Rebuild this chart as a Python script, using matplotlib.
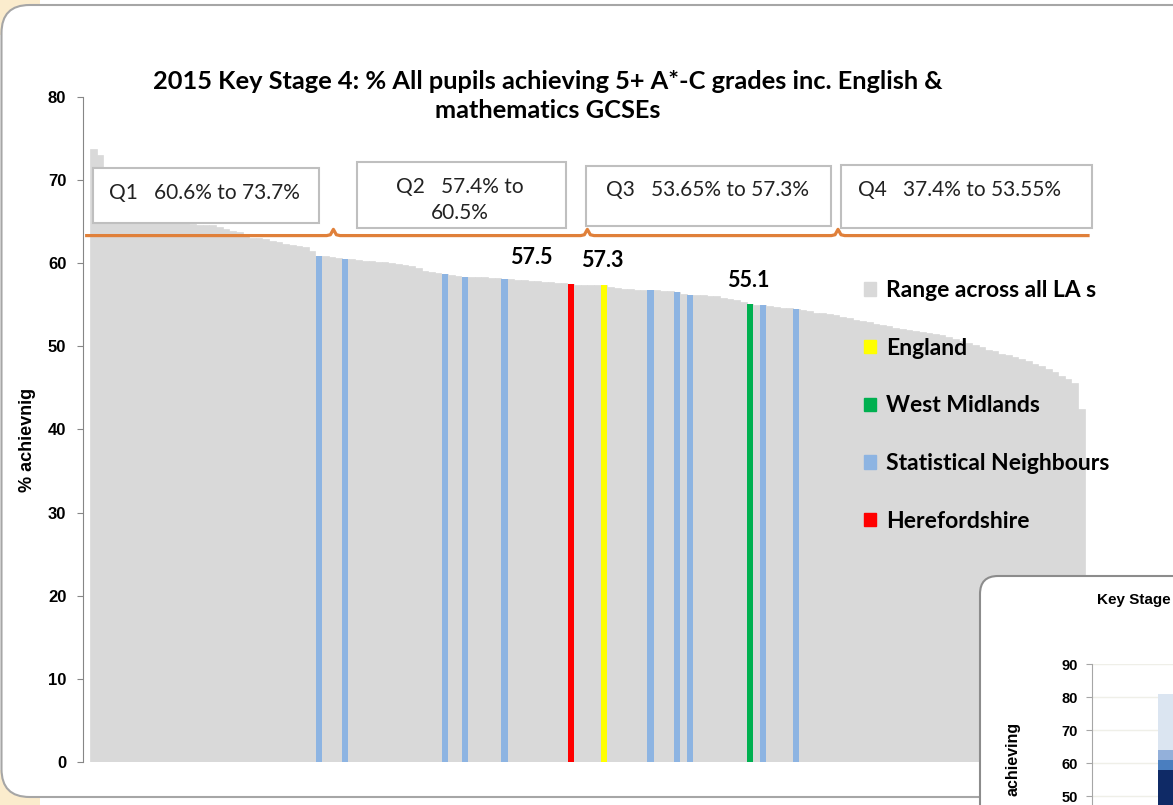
import matplotlib
matplotlib.use("Agg")
import matplotlib.pyplot as plt
from matplotlib.patches import Rectangle, FancyBboxPatch, Patch

W, H = 1173, 805

# % of pupils achieving 5+ A*-C inc. English & maths, every LA, sorted high to low
la_values = [
    73.7, 73.0, 70.5, 69.0, 68.0, 67.3, 66.8, 66.3, 66.0, 65.7,
    65.4, 65.2, 65.0, 64.9, 64.8, 64.7, 64.6, 64.6, 64.6, 64.3,
    64.1, 63.9, 63.7, 63.4, 63.0, 63.0, 62.9, 62.6, 62.5, 62.3,
    62.2, 62.0, 61.9, 61.5, 60.9, 60.8, 60.7, 60.6, 60.5, 60.45,
    60.4, 60.3, 60.2, 60.1, 60.1, 60.0, 59.9, 59.8, 59.6, 59.4,
    59.0, 58.9, 58.8, 58.7, 58.5, 58.4, 58.3, 58.3, 58.3, 58.3,
    58.2, 58.2, 58.1, 58.1, 57.9, 57.9, 57.8, 57.8, 57.7, 57.7,
    57.6, 57.6, 57.5, 57.4, 57.4, 57.3, 57.3, 57.3, 57.1, 57.0,
    56.9, 56.9, 56.8, 56.8, 56.7, 56.7, 56.6, 56.6, 56.5, 56.3,
    56.2, 56.2, 56.1, 56.0, 56.0, 55.8, 55.7, 55.5, 55.3, 55.1,
    55.0, 54.9, 54.8, 54.7, 54.6, 54.6, 54.5, 54.3, 54.2, 54.0,
    54.0, 53.9, 53.7, 53.55, 53.4, 53.2, 53.0, 52.9, 52.7, 52.6,
    52.4, 52.2, 52.1, 52.0, 51.8, 51.7, 51.6, 51.5, 51.3, 51.1,
    50.9, 50.6, 50.4, 50.2, 49.9, 49.6, 49.4, 49.1, 48.9, 48.7,
    48.5, 48.2, 47.9, 47.6, 47.3, 46.9, 46.4, 46.0, 45.6, 42.4,
]
neighbour_idx = [34, 38, 53, 56, 62, 84, 88, 90, 101, 106]
herefordshire_idx = 72
england_idx = 77
west_midlands_idx = 99
herefordshire_label = "57.5"
england_label = "57.3"
west_midlands_label = "55.1"

yticks = list(range(0, 90, 10))
quartile_labels = [
    "Q1   60.6% to 73.7%",
    "Q2   57.4% to\n60.5%",
    "Q3   53.65% to 57.3%",
    "Q4   37.4% to 53.55%",
]
legend_labels = ["Range across all LA s", "England", "West Midlands",
                 "Statistical Neighbours", "Herefordshire"]

# the next slide's chart that pokes in at the bottom right
inset_yticks = [50, 60, 70, 80, 90]
inset_segments = [58, 3, 3, 17]
inset_colors = ["#0f2a66", "#4a7ebf", "#93b0da", "#dbe5f1"]

GREY = "#d9d9d9"
BLUE = "#8db4e2"
RED = "#ff0000"
YELLOW = "#ffff00"
GREEN = "#00b050"
ORANGE = "#e0803a"

plt.rcParams["font.family"] = "Liberation Sans"


def fx(x):
    return x / W


def fy(y):
    return 1 - y / H


fig = plt.figure(figsize=(W / 100, H / 100), dpi=100)
fig.patch.set_facecolor("white")

# slide corners + rounded chart frame
for x0, y0 in [(0, 0), (0, 770)]:
    fig.add_artist(Rectangle((fx(x0), fy(y0 + 35)), 40 / W, 35 / H,
                             transform=fig.transFigure, facecolor="#fbeccd",
                             edgecolor="none", zorder=-3))
fig.add_artist(FancyBboxPatch((0.015, (H - 797) / 100), 13, (797 - 5) / 100,
                              boxstyle="round,pad=0,rounding_size=0.28",
                              transform=fig.dpi_scale_trans, facecolor="white",
                              edgecolor="#a6a6a6", lw=1.5, zorder=-2))

ax = fig.add_axes([fx(83), fy(762), (1092 - 83) / W, (762 - 96.7) / H])
ax.set_facecolor("none")

x = list(range(len(la_values)))
ax.bar(x, la_values, width=1.0, color=GREY, edgecolor=GREY, lw=0.5)
ax.bar(neighbour_idx, [la_values[i] for i in neighbour_idx], width=0.95, color=BLUE, lw=0)
ax.bar([herefordshire_idx], [la_values[herefordshire_idx]], width=0.95, color=RED, lw=0)
ax.bar([england_idx], [la_values[england_idx]], width=0.95, color=YELLOW, lw=0)
ax.bar([west_midlands_idx], [la_values[west_midlands_idx]], width=0.95, color=GREEN, lw=0)

ax.set_xlim(-1.556, 150.6)
ax.set_ylim(0, 80)
ax.set_yticks(yticks)
ax.set_xticks([])
for side in ["top", "right", "bottom"]:
    ax.spines[side].set_visible(False)
ax.spines["left"].set_color("#868686")
ax.tick_params(axis="y", length=4, color="#868686", pad=8, labelsize=12)
for lab in ax.get_yticklabels():
    lab.set_fontweight("bold")

fig.text(fx(28), fy(440), "% achievnig", rotation=90, ha="center", va="center",
         fontsize=13, fontweight="bold")

# value labels over the highlighted bars
lab_font = dict(family="Lato", fontweight="bold", fontsize=15.5, ha="center", va="center")
ax.annotate(herefordshire_label, xy=(herefordshire_idx, la_values[herefordshire_idx]),
            xytext=(-39, 26), textcoords="offset pixels", **lab_font)
ax.annotate(england_label, xy=(england_idx, la_values[england_idx]),
            xytext=(-2, 24.5), textcoords="offset pixels", **lab_font)
ax.annotate(west_midlands_label, xy=(west_midlands_idx, la_values[west_midlands_idx]),
            xytext=(-2, 23.5), textcoords="offset pixels", **lab_font)

# orange brace line splitting the quartiles
brace_y = 63.3
xs, ys = [-1.0], [brace_y]
for b in [36.2, 74.5, 112.3]:
    xs += [b - 1.0, b - 0.45, b, b + 0.45, b + 1.0]
    ys += [brace_y, brace_y + 0.1, brace_y + 0.75, brace_y + 0.1, brace_y]
xs.append(150.0)
ys.append(brace_y)
ax.plot(xs, ys, color=ORANGE, lw=2.3, solid_joinstyle="round", clip_on=False, zorder=4)

# quartile boxes
boxes = [(93, 168, 319, 223), (357, 162, 566, 228), (586, 166, 831, 226), (841, 165, 1092, 228)]
text_pos = [(204, 193), (460, 200), (708, 190), (960, 190)]
for (x0, y0, x1, y1), (tx, ty), txt in zip(boxes, text_pos, quartile_labels):
    fig.add_artist(Rectangle((fx(x0), fy(y1)), (x1 - x0) / W, (y1 - y0) / H,
                             transform=fig.transFigure, facecolor="white",
                             edgecolor="#bfbfbf", lw=1.5, zorder=3))
    fig.text(fx(tx), fy(ty), txt, ha="center", va="center", family="Lato",
             fontsize=15, color="#222222", linespacing=1.4, zorder=4)

fig.text(fx(548), fy(96), "2015 Key Stage 4: % All pupils achieving 5+ A*-C grades inc. English &\nmathematics GCSEs",
         ha="center", va="center", family="Lato", fontweight="bold", fontsize=18.3,
         linespacing=1.3)

handles = [Patch(color=c) for c in [GREY, YELLOW, GREEN, BLUE, RED]]
ax.legend(handles, legend_labels, loc="upper left", bbox_to_anchor=(fx(864), fy(280)),
          bbox_transform=fig.transFigure, frameon=False,
          prop=dict(family="Lato", weight="bold", size=16.5),
          handlelength=0.52, handleheight=0.52, handletextpad=0.45,
          labelspacing=1.6, borderaxespad=0, borderpad=0)

# next chart, partly visible
fig.add_artist(FancyBboxPatch((9.80, (H - 900) / 100), 5, (900 - 576) / 100,
                              boxstyle="round,pad=0,rounding_size=0.18",
                              transform=fig.dpi_scale_trans, facecolor="white",
                              edgecolor="#8c8c8c", lw=1.5, zorder=5))
ax2 = fig.add_axes([fx(1092), fy(961), 320 / W, (961 - 664) / H], zorder=6)
bottom = 0
for seg, col in zip(inset_segments, inset_colors):
    ax2.bar([1.25], [seg], bottom=bottom, width=0.86, color=col, lw=0)
    bottom += seg
ax2.set_xlim(0, 4)
ax2.set_ylim(0, 90)
ax2.set_yticks(inset_yticks)
ax2.set_xticks([])
ax2.grid(axis="y", color="#efefe8", lw=1)
ax2.set_axisbelow(True)
for side in ["top", "right", "bottom"]:
    ax2.spines[side].set_visible(False)
ax2.spines["left"].set_color("#a6a6a6")
ax2.tick_params(axis="y", length=4, color="#a6a6a6", pad=6, labelsize=10.5)
for lab in ax2.get_yticklabels():
    lab.set_fontweight("bold")
fig.text(fx(1097), fy(600), "Key Stage", ha="left", va="center", fontsize=11,
         fontweight="bold", zorder=7)
fig.text(fx(1013), fy(722), "achieving", rotation=90, ha="center", va="top",
         fontsize=11.5, fontweight="bold", zorder=7)

fig.savefig("out.png", dpi=100)
